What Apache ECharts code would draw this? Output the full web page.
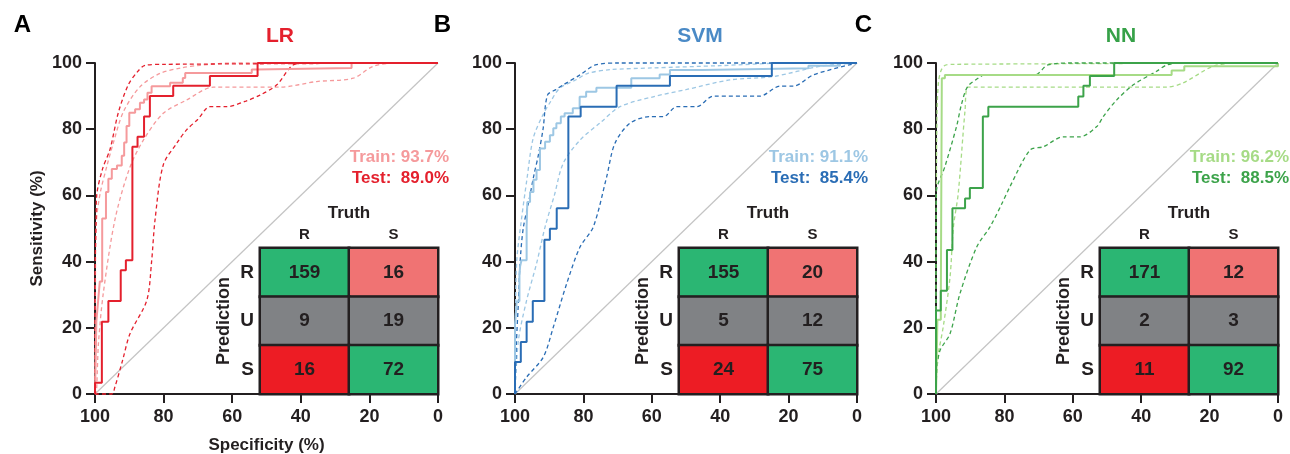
<!DOCTYPE html>
<html>
<head>
<meta charset="utf-8">
<script src="https://cdn.jsdelivr.net/npm/echarts@6/dist/echarts.min.js"></script>
<style>
  html, body { margin: 0; padding: 0; background: #fff; }
  #chart { width: 1290px; height: 454px; }
</style>
</head>
<body>
<div id="chart"></div>
<script>
// ROC points are [specificity, sensitivity]
const lrTest = [[100,0],[100,3.4],[98,21.8],[96.1,28.1],[92.5,37.4],[91,40.4],[89.1,74.7],[87.6,77.7],[85.7,83.8],[84,90],[77.2,93.1],[66.5,96.1],[52.6,100],[0,100]]
const lrTrain = [[100,0],[99.6,22],[99.1,28],[98.6,34],[97.9,53],[96.8,61],[96.1,65],[95.1,68],[93.6,69],[92.2,72],[91.5,76],[90.8,81],[90,85],[88.3,86],[86.9,88],[85.7,89],[84.7,91],[83.5,93],[78.1,94],[74.4,95.5],[73.7,97],[54.3,98],[52.9,98.5],[25.2,100],[0,100]]
const lrTestHi = [[100,0],[100,35],[99.7,52],[99.5,60],[97.8,68],[95.6,74],[93.2,85],[90.3,93.4],[87.5,97.5],[85.4,99.3],[80,99.6],[0,100]]
const lrTestLo = [[100,0],[95.1,0],[94.2,2.1],[92,10],[89.8,18.2],[84.9,28.3],[83.5,40],[82.5,52.6],[80.1,69.2],[76,76],[73.3,79.8],[70,83],[66.5,86.8],[61.6,86.8],[56,88.5],[51.9,90.3],[47,93.4],[42.7,99.1],[40,100],[0,100]]
const lrTrainHi = [[100,0],[99.9,30],[99.6,52],[98.5,60.6],[96.5,69],[94.7,75.7],[91.7,85.3],[86.9,92.8],[81,96.9],[75,98.5],[69.4,99.3],[60,100],[0,100]]
const lrTrainLo = [[100,0],[99.7,0],[99,15.2],[97.6,30.3],[94.2,52.6],[90,68],[85.9,76.7],[80.1,84.8],[73.3,88.8],[65.5,92.7],[46.1,92.7],[35.4,94.4],[24.7,95.4],[18.9,99],[12,100],[0,100]]

const svmTest = [[100,0],[100,9.7],[98.3,15.7],[96.6,21.8],[94.8,28.1],[91.4,46.6],[89.8,49.9],[87.8,56.1],[84.4,83.8],[80.8,86.8],[70.3,93.1],[54.7,96.1],[24.9,100],[0,100]]
const svmTrain = [[100,0],[100,21],[99.5,28],[98.7,36],[98.5,38.6],[98.1,40.4],[96.6,50.5],[96.4,58],[95.6,61],[94.6,64.7],[93.7,67.7],[92.7,74.2],[91.2,76.2],[89.8,78.2],[88.8,80.3],[87.9,81.8],[86.6,83.8],[85.5,84.8],[83.1,86.3],[81.1,89.8],[79.2,91.3],[76.2,92.5],[66,95.4],[57.7,96.5],[54.7,97.9],[45.4,98.4],[14.2,99.2],[5,100],[0,100]]
const svmTestHi = [[100,0],[99.6,15],[99,28],[98.5,40],[97.6,50],[96,58],[94.5,66],[93.2,72],[91.8,80],[90.5,90.3],[88,92],[85.9,93.4],[81,96.4],[76.5,99.4],[70,100],[0,100]]
const svmTestLo = [[100,0],[96.6,5.1],[91.7,11.2],[88.8,20.2],[84.9,33.3],[81,44.4],[77.1,50.5],[73.2,65.6],[70.8,75.7],[66.4,81.8],[60.5,83.8],[56.6,83.8],[52.7,86.8],[46.9,86.8],[42,90],[28.4,90],[22.5,93],[18.6,93],[12.8,96.4],[0,100]]
const svmTrainHi = [[100,0],[99.9,20],[99.5,40],[98.2,52],[96.5,65],[94.7,77.2],[92,84],[89.5,88.5],[86.9,92.4],[82,95],[78.7,96.9],[72,98],[60,98.5],[40,99.2],[20,100],[0,100]]
const svmTrainLo = [[100,0],[99,16.2],[96.6,28.3],[93.7,39.4],[91.2,50.5],[88.5,60],[85.9,69.7],[81,76.7],[75,82],[69.3,86.8],[59.6,89.8],[49.8,92],[37.1,94.9],[24.5,95.9],[10.8,99],[0,100]]

const nnTest = [[100,0],[100,25.2],[98.6,31.2],[96.8,43.5],[95.2,56.1],[91.5,59.1],[90.1,62.2],[86.3,83.8],[84.7,86.8],[58.4,89.9],[56.9,93.1],[55,96.1],[47.9,100],[0,100]]
const nnTrain = [[100,0],[99.8,10],[99.6,22.4],[98.6,26],[98.3,95.4],[97.4,96.4],[31.1,97.7],[27.4,99],[0,100]]
const nnTestHi = [[100,0],[100,40],[99.9,61],[97.4,68.7],[94,80.8],[92.6,87.3],[90.8,92.8],[87.7,95.4],[85.8,96.4],[71.1,96.4],[67.3,99.4],[60,100],[0,100]]
const nnTestLo = [[100,0],[99.7,8],[98.8,13.2],[95.9,18.2],[93,30.3],[88.1,44.4],[84.2,50.5],[80.5,58],[78.4,62.6],[72.5,73.7],[68.6,74.7],[62.8,77.7],[57.9,77.7],[53,80.8],[51.1,83.8],[47.2,88.8],[42.3,93.4],[35.5,97.5],[32.5,99.4],[28,100],[0,100]]
const nnTrainHi = [[100,0],[100,40],[99.9,60],[99.7,85],[99.3,94],[98.6,97.5],[97.5,99.2],[95,99.6],[0,100]]
const nnTrainLo = [[100,0],[99.6,10.2],[97.9,20.2],[95.9,35.3],[94.9,50.5],[93.5,60.6],[91.5,85.8],[90.6,92.7],[32.5,92.7],[27.7,94],[19,99],[12,100],[0,100]]

// confusion matrices: rows = prediction R,U,S ; cols = truth R,S
const lrMatrix = [[159, 16], [9, 19], [16, 72]]
const svmMatrix = [[155, 20], [5, 12], [24, 75]]
const nnMatrix = [[171, 12], [2, 3], [11, 92]]

const truthLabels = ['R', 'S']
const predLabels = ['R', 'U', 'S']
const aucTrain = ['93.7%', '91.1%', '96.2%']
const aucTest = ['89.0%', '85.4%', '88.5%']
const modelNames = ['LR', 'SVM', 'NN']
const panelLetters = ['A', 'B', 'C']

// 0 green, 1 pink, 2 grey, 3 red
const cellClass = [[0, 1], [2, 2], [3, 0]]
const cellColors = ['#2bb673', '#f07373', '#808285', '#ed1c24']

const ink = '#231f20'
const font = 'Liberation Sans'

const panels = [
  { left: 95, width: 343, dark: '#e4202d', light: '#f59a9c', head: '#e4202d',
    test: lrTest, train: lrTrain, testHi: lrTestHi, testLo: lrTestLo, trainHi: lrTrainHi, trainLo: lrTrainLo, cm: lrMatrix },
  { left: 515, width: 342, dark: '#2a6db5', light: '#9dc7e4', head: '#4a8ac6',
    test: svmTest, train: svmTrain, testHi: svmTestHi, testLo: svmTestLo, trainHi: svmTrainHi, trainLo: svmTrainLo, cm: svmMatrix },
  { left: 936, width: 342, dark: '#3ca34a', light: '#a6db86', head: '#36a148',
    test: nnTest, train: nnTrain, testHi: nnTestHi, testLo: nnTestLo, trainHi: nnTrainHi, trainLo: nnTrainLo, cm: nnMatrix }
]

const plotTop = 63
const plotH = 331
const cmW = 178
const cmH = 146

const grid = []
const xAxis = []
const yAxis = []
const series = []
const graphic = []
const heatIdx = []

panels.forEach((p, i) => {
  const right = p.left + p.width
  grid.push({ left: p.left, top: plotTop, width: p.width, height: plotH, outerBoundsMode: 'none' })
  xAxis.push({
    gridIndex: i, type: 'value', inverse: true, min: 0, max: 100, interval: 20,
    axisLine: { onZero: false, lineStyle: { color: ink, width: 2 } },
    axisTick: { length: 9, lineStyle: { color: ink, width: 2 } },
    axisLabel: { color: ink, fontSize: 18, fontWeight: 'bold', fontFamily: font, margin: 14 },
    splitLine: { show: false },
    name: i === 0 ? 'Specificity (%)' : '',
    nameLocation: 'middle', nameGap: 43,
    nameTextStyle: { color: ink, fontSize: 17, fontWeight: 'bold', fontFamily: font }
  })
  yAxis.push({
    gridIndex: i, type: 'value', min: 0, max: 100, interval: 20,
    axisLine: { onZero: false, lineStyle: { color: ink, width: 2 } },
    axisTick: { length: 9, lineStyle: { color: ink, width: 2 } },
    axisLabel: { color: ink, fontSize: 18, fontWeight: 'bold', fontFamily: font, margin: 13 },
    splitLine: { show: false },
    name: i === 0 ? 'Sensitivity (%)' : '',
    nameLocation: 'middle', nameGap: 49, nameRotate: 90,
    nameTextStyle: { color: ink, fontSize: 17, fontWeight: 'bold', fontFamily: font }
  })

  const line = (data, color, width, dashed, smooth) => ({
    type: 'line', xAxisIndex: i, yAxisIndex: i, data: data,
    showSymbol: false, symbol: 'none', clip: false, silent: true,
    step: smooth ? false : 'end',
    smooth: smooth ? 0.3 : false,
    lineStyle: { color: color, width: width, type: dashed ? [4, 3] : 'solid' }
  })
  series.push(line([[100, 0], [0, 100]], '#c4c4c4', 1.2, false, true))
  series.push(line(p.trainHi, p.light, 1.3, true, true))
  series.push(line(p.trainLo, p.light, 1.3, true, true))
  series.push(line(p.testHi, p.dark, 1.3, true, true))
  series.push(line(p.testLo, p.dark, 1.3, true, true))
  series.push(line(p.train, p.light, 2, false, false))
  series.push(line(p.test, p.dark, 2, false, false))

  graphic.push({ type: 'text', x: p.left - 72.5, y: 25.5,
    style: { text: panelLetters[i], fill: '#000', font: 'bold 24px "Liberation Sans"', textAlign: 'center', textVerticalAlign: 'middle' } })
  graphic.push({ type: 'text', x: p.left + 185, y: 36,
    style: { text: modelNames[i], fill: p.head, font: 'bold 21px "Liberation Sans"', textAlign: 'center', textVerticalAlign: 'middle' } })
  graphic.push({ type: 'text', x: right + 11, y: 157,
    style: { text: 'Train: ' + aucTrain[i], fill: p.light, font: 'bold 17px "Liberation Sans"', textAlign: 'right', textVerticalAlign: 'middle' } })
  graphic.push({ type: 'text', x: right + 11, y: 178,
    style: { text: 'Test:  ' + aucTest[i], fill: p.dark, font: 'bold 17px "Liberation Sans"', textAlign: 'right', textVerticalAlign: 'middle' } })
})

panels.forEach((p, i) => {
  const gi = i + 3
  const right = p.left + p.width
  grid.push({ left: right - cmW, top: plotTop + plotH - cmH, width: cmW, height: cmH, outerBoundsMode: 'none' })
  xAxis.push({
    gridIndex: gi, type: 'category', position: 'top', data: truthLabels,
    axisLine: { show: false }, axisTick: { show: false },
    axisLabel: { color: ink, fontSize: 15, fontWeight: 'bold', fontFamily: font, margin: 6 },
    name: 'Truth', nameLocation: 'middle', nameGap: 26,
    nameTextStyle: { color: ink, fontSize: 17, fontWeight: 'bold', fontFamily: font }
  })
  yAxis.push({
    gridIndex: gi, type: 'category', data: predLabels.slice().reverse(),
    axisLine: { show: false }, axisTick: { show: false },
    axisLabel: { color: ink, fontSize: 19, fontWeight: 'bold', fontFamily: font, margin: 6 },
    name: 'Prediction', nameLocation: 'middle', nameGap: 27, nameRotate: 90,
    nameTextStyle: { color: ink, fontSize: 18, fontWeight: 'bold', fontFamily: font }
  })
  const cells = []
  p.cm.forEach((row, r) => {
    row.forEach((v, c) => {
      cells.push([c, predLabels.length - 1 - r, v, cellClass[r][c]])
    })
  })
  heatIdx.push(series.length)
  series.push({
    type: 'heatmap', xAxisIndex: gi, yAxisIndex: gi, data: cells, silent: true,
    itemStyle: { borderColor: ink, borderWidth: 2.5 },
    label: { show: true, formatter: d => d.value[2], color: ink, fontSize: 19, fontWeight: 'bold', fontFamily: font },
    emphasis: { disabled: true }
  })
})

const chart = echarts.init(document.getElementById('chart'))
chart.setOption({
  animation: false,
  backgroundColor: '#fff',
  textStyle: { fontFamily: font },
  grid: grid,
  xAxis: xAxis,
  yAxis: yAxis,
  visualMap: {
    type: 'piecewise', show: false, dimension: 3, seriesIndex: heatIdx,
    pieces: cellColors.map((c, k) => ({ value: k, color: c }))
  },
  graphic: graphic,
  series: series
})
</script>
</body>
</html>
